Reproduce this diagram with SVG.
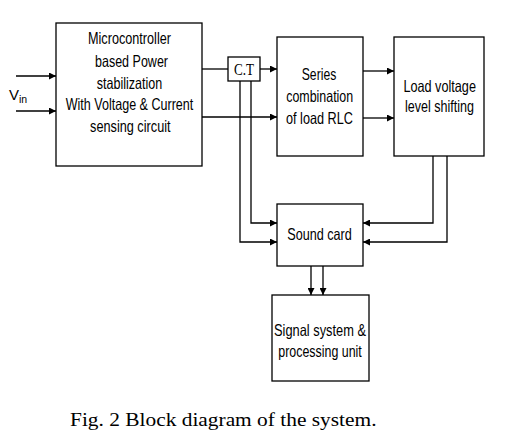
<svg xmlns="http://www.w3.org/2000/svg" width="523" height="437" viewBox="0 0 523 437">
<style>
.box{fill:#fff;stroke:#000;stroke-width:1.3}
.ln{fill:none;stroke:#000;stroke-width:1.3}
.t{font-family:"Liberation Sans",Arial,sans-serif;font-size:16.5px;fill:#000;text-anchor:middle}
.s{font-family:"Liberation Serif","Times New Roman",serif;fill:#000}
</style>
<defs>
<marker id="ah" viewBox="0 0 10 10" refX="10" refY="5" markerWidth="9" markerHeight="7" markerUnits="userSpaceOnUse" orient="auto">
<path d="M0,0 L10,5 L0,10 z" fill="#000"/>
</marker>
</defs>
<rect width="523" height="437" fill="#fff"/>
<g id="connectors">
<line class="ln" x1="16" y1="76" x2="56" y2="76" marker-end="url(#ah)"/>
<line class="ln" x1="16" y1="111" x2="56" y2="111" marker-end="url(#ah)"/>
<line class="ln" x1="202" y1="69" x2="228" y2="69"/>
<line class="ln" x1="260" y1="69" x2="277" y2="69" marker-end="url(#ah)"/>
<line class="ln" x1="202" y1="117" x2="277" y2="117" marker-end="url(#ah)"/>
<line class="ln" x1="363" y1="71" x2="394" y2="71" marker-end="url(#ah)"/>
<line class="ln" x1="363" y1="118" x2="394" y2="118" marker-end="url(#ah)"/>
<polyline class="ln" points="251,81 251,223 277,223" marker-end="url(#ah)"/>
<polyline class="ln" points="240,81 240,242 277,242" marker-end="url(#ah)"/>
<polyline class="ln" points="433,156 433,223 363,223" marker-end="url(#ah)"/>
<polyline class="ln" points="447,156 447,242 363,242" marker-end="url(#ah)"/>
<line class="ln" x1="311" y1="266" x2="311" y2="295" marker-end="url(#ah)"/>
<line class="ln" x1="323" y1="266" x2="323" y2="295" marker-end="url(#ah)"/>
</g>
<g id="vin">
<text x="9" y="100" style="font-family:'Liberation Sans',Arial,sans-serif;font-size:15px">V<tspan dy="2.5" style="font-size:10.5px">in</tspan></text>
</g>
<g id="micro">
<rect class="box" x="56" y="23" width="146" height="143"/>
<text class="t" x="129.5" y="44" textLength="83" lengthAdjust="spacingAndGlyphs">Microcontroller</text>
<text class="t" x="131.5" y="66.5" textLength="73" lengthAdjust="spacingAndGlyphs">based Power</text>
<text class="t" x="129.5" y="88.5" textLength="65.5" lengthAdjust="spacingAndGlyphs">stabilization</text>
<text class="t" x="129.5" y="110" textLength="127.5" lengthAdjust="spacingAndGlyphs">With Voltage &amp; Current</text>
<text class="t" x="130.3" y="132" textLength="80.5" lengthAdjust="spacingAndGlyphs">sensing circuit</text>
</g>
<g id="ct">
<rect class="box" x="228" y="57" width="32" height="24"/>
<text class="s" x="234" y="75" font-size="16" textLength="20" lengthAdjust="spacingAndGlyphs">C.T</text>
</g>
<g id="series">
<rect class="box" x="277" y="37" width="86" height="119"/>
<text class="t" x="319" y="79.5" textLength="34.5" lengthAdjust="spacingAndGlyphs">Series</text>
<text class="t" x="319.7" y="102" textLength="67" lengthAdjust="spacingAndGlyphs">combination</text>
<text class="t" x="319.5" y="124" textLength="67" lengthAdjust="spacingAndGlyphs">of load RLC</text>
</g>
<g id="load">
<rect class="box" x="394" y="37" width="90" height="119"/>
<text class="t" x="439.7" y="91.5" textLength="72.5" lengthAdjust="spacingAndGlyphs">Load voltage</text>
<text class="t" x="439.5" y="111.5" textLength="69" lengthAdjust="spacingAndGlyphs">level shifting</text>
</g>
<g id="sound">
<rect class="box" x="277" y="204" width="86" height="62"/>
<text class="t" x="319.5" y="240" textLength="64.5" lengthAdjust="spacingAndGlyphs">Sound card</text>
</g>
<g id="signal">
<rect class="box" x="272" y="295" width="97" height="86"/>
<text class="t" x="320" y="335.5" textLength="92" lengthAdjust="spacingAndGlyphs">Signal system &amp;</text>
<text class="t" x="320" y="357" textLength="83.5" lengthAdjust="spacingAndGlyphs">processing unit</text>
</g>
<text class="s" x="70" y="426" font-size="19" textLength="306.5" lengthAdjust="spacingAndGlyphs">Fig. 2 Block diagram of the system.</text>
</svg>
